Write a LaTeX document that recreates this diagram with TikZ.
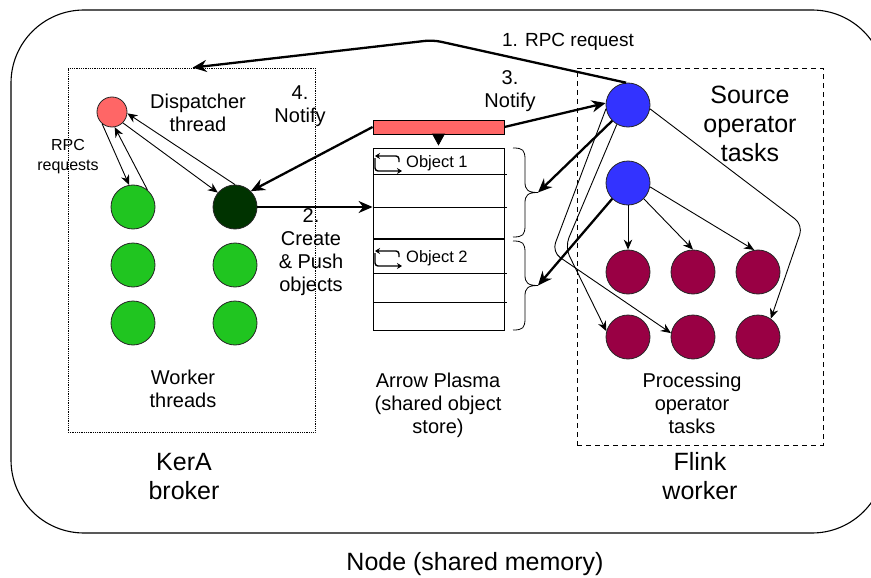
\documentclass[tikz,border=0pt]{standalone}
\usepackage{fontspec}
\setmainfont{Liberation Sans}
\usetikzlibrary{arrows.meta,calc}
\definecolor{dispred}{HTML}{FF6666}
\definecolor{wgreen}{HTML}{20C520}
\definecolor{dkgreen}{HTML}{003300}
\definecolor{srcblue}{HTML}{3333FF}
\definecolor{procred}{HTML}{990044}
\begin{document}
\begin{tikzpicture}[x=1pt,y=-1pt,
  circ/.style={circle, draw=black!85, line width=0.8pt, minimum size=44pt, inner sep=0pt},
  lbl/.style={font=\fontsize{20}{23}\selectfont, align=center, inner sep=0pt},
  biglbl/.style={font=\fontsize{25}{29}\selectfont, align=center, inner sep=0pt},
  smalllbl/.style={font=\fontsize{16}{20}\selectfont, align=center, inner sep=0pt},
  objlbl/.style={font=\fontsize{16.5}{19}\selectfont, anchor=west, inner sep=0pt},
  thinarrow/.style={line width=0.9pt, -{Stealth[length=10pt,width=8.5pt]}},
  thickarrow/.style={line width=2.3pt, -{Stealth[length=14pt,width=12pt]}},
  curlyb/.pic={\draw[line width=0.8pt] (0,0) .. controls (10,0) and (12,2) .. (12,12) -- (12,34)
     .. controls (12,42) and (15,44.5) .. (25,44.5) .. controls (15,44.5) and (12,47) .. (12,55)
     -- (12,77) .. controls (12,87) and (10,89) .. (0,89);},
  loopicon/.pic={
     \draw[line width=1.4pt, rounded corners=3pt, -{Stealth[length=5pt,width=6pt]}] (26,7) -- (26,1) -- (2,1);
     \draw[line width=1.4pt, rounded corners=3pt, -{Stealth[length=5pt,width=6pt]}] (2,3) -- (2,16) -- (29,16);}
]
\clip (0,0) rectangle (871,578);

% outer node
\draw[line width=1.1pt, rounded corners=73pt] (11,10) rectangle (885,533);
\node[biglbl] (nodelbl) at (475,564) {Node (shared memory)};

% KerA broker box
\node[draw, densely dotted, line width=0.8pt, minimum width=247pt, minimum height=364pt, inner sep=0pt] (kera) at (191.5,250) {};
\node[biglbl] (keralbl) at (184,477) {KerA\\broker};
\node[lbl] (displbl) at (198,113) {Dispatcher\\thread};
\node[smalllbl] (rpclbl) at (68,157) {RPC\\requests};
\node[lbl] (wlbl) at (183,389) {Worker\\threads};

\node[circ, fill=dispred, minimum size=30pt] (disp) at (112,112) {};
\node[circ, fill=wgreen] (g11) at (133,207) {};
\node[circ, fill=wgreen] (g21) at (133,265) {};
\node[circ, fill=wgreen] (g31) at (133,323) {};
\node[circ, fill=dkgreen] (dk) at (235,207) {};
\node[circ, fill=wgreen] (g22) at (235,265) {};
\node[circ, fill=wgreen] (g32) at (235,323) {};

\draw[thinarrow] (disp.230) -- (g11.100);
\draw[thinarrow] (g11.50) -- (disp.280);
\draw[thinarrow] (disp.315) -- (dk.140);
\draw[thinarrow] (dk.90) -- (disp.355);

% labels for steps
\node[lbl] (n4) at (300,106.5) {4.\\Notify};
\node[lbl] (n2) at (311,252) {2.\\Create\\\& Push\\objects};
\node[lbl] (n3) at (510,91.5) {3.\\Notify};
\node[font=\fontsize{19}{22}\selectfont, inner sep=0pt] (n1) at (568,42) {1. RPC request};

% Plasma
\node[draw, fill=dispred, line width=0.8pt, minimum width=131pt, minimum height=14pt, inner sep=0pt] (phead) at (438.5,127) {};
\node[draw, line width=0.8pt, minimum width=131pt, minimum height=182pt, inner sep=0pt] (plasma) at (438.5,239) {};
\foreach \yy in {174,207,273,302} \draw[line width=0.8pt] (373,\yy) -- (507,\yy);
\draw[line width=2.6pt] (373,239) -- (504,239);
\draw[line width=0.8pt, -{Triangle[length=12pt,width=13pt]}, shorten >=2pt] (phead.south) -- (plasma.north);
\pic at (373,155) {loopicon};
\pic at (373,250) {loopicon};
\node[objlbl] (o1) at (406,163) {Object 1};
\node[objlbl] (o2) at (406,258) {Object 2};
\pic at (513,148) {curlyb};
\pic at (513,241) {curlyb};
\coordinate (t1) at (538,192.5);
\coordinate (t2) at (538,285.5);
\node[lbl] (plasmalbl) at (438,405) {Arrow Plasma\\(shared object\\store)};

% Flink worker box
\node[draw, dashed, dash pattern=on 5pt off 4pt, line width=0.8pt, minimum width=246pt, minimum height=377pt, inner sep=0pt] (flink) at (700,256.5) {};
\node[biglbl] (srclbl) at (750,124) {Source\\operator\\tasks};
\node[lbl] (proclbl) at (692,403.5) {Processing\\operator\\tasks};
\node[biglbl] (flinklbl) at (700,476) {Flink\\worker};

\node[circ, fill=srcblue] (b1) at (628,105) {};
\node[circ, fill=srcblue] (b2) at (628,183) {};
\node[circ, fill=procred] (m11) at (628,272) {};
\node[circ, fill=procred] (m12) at (693,272) {};
\node[circ, fill=procred] (m13) at (758,272) {};
\node[circ, fill=procred] (m21) at (628,337) {};
\node[circ, fill=procred] (m22) at (693,337) {};
\node[circ, fill=procred] (m23) at (758,337) {};

% connectors
\coordinate (rpcend) at ($(kera.north west)+(125,0)$);
\coordinate (rpcbend) at (433,40);
\draw[thickarrow, rounded corners=8pt] (b1.95) -- (rpcbend) -- (rpcend);
\draw[thickarrow] (phead.west) -- (dk.45);
\draw[thickarrow] (dk.east) -- (dk.east -| plasma.west);
\draw[thickarrow] (phead.east) -- (b1.175);
\draw[thickarrow] (b1.225) -- (t1);
\draw[thickarrow] (b2.225) -- (t2);

\draw[thinarrow] (b2.270) -- (m11.90);
\draw[thinarrow] (b2.315) -- (m12.north);
\draw[thinarrow] (b2.-10) -- (m13.100);
\draw[thinarrow, rounded corners=10pt] (b1.-10) -- (803,225) -- (m23.55);
\draw[thinarrow, rounded corners=10pt] (b1.190) -- (552,252) -- (m22.170);
\draw[thinarrow, rounded corners=10pt] (b1.240) -- (565,247) -- (m21.165);
\end{tikzpicture}
\end{document}
